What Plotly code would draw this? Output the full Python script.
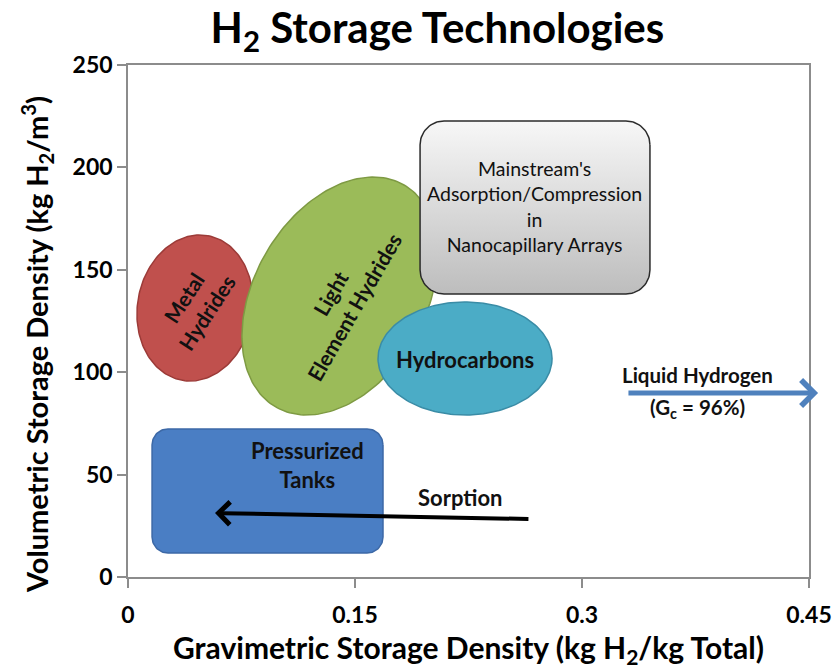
import numpy as np
import plotly.graph_objects as go

# storage technology regions (data units)
region_names = ["Metal Hydrides", "Light Element Hydrides", "Hydrocarbons"]
region_x0 = [0.0059, 0.0753, 0.1652]
region_x1 = [0.0826, 0.2048, 0.2802]
region_y0 = [95.7, 79.1, 79.1]
region_y1 = [167.0, 195.3, 134.3]
region_tilt = [80, 60, 0]

box_names = ["Pressurized Tanks", "Mainstream's Adsorption/Compression"]
box_x0 = [0.0159, 0.1930]
box_x1 = [0.1685, 0.3449]
box_y0 = [11.7, 138.2]
box_y1 = [72.3, 222.7]

label_text = ["Metal<br>Hydrides", "Light<br>Element Hydrides", "Hydrocarbons",
              "Pressurized<br>Tanks",
              "Mainstream's<br>Adsorption/Compression<br>in<br>Nanocapillary Arrays",
              "Sorption", "Liquid Hydrogen", "(G<sub>c</sub> = 96%)"]
label_x = [0.0443, 0.1414, 0.2227, 0.1183, 0.2689, 0.2194, 0.376, 0.376]
label_y = [132.8, 135.3, 106.0, 54.7, 180.7, 39.0, 98.6, 82.5]

# arrows: tail -> head
sorption_tail = (0.2656, 28.3)
sorption_head = (0.0575, 31.25)
liquid_tail = (0.3297, 89.8)
liquid_head = (0.456, 89.8)

x_ticks = [0, 0.15, 0.3, 0.45]
x_ticktext = ["0", "0.15", "0.3", "0.45"]
y_ticks = [0, 50, 100, 150, 200, 250]

# pixels per data unit, so shapes keep their look on unequal axes
PX = 681 / 0.45
PY = 512 / 250

FONT = "Lato"


def ellipse(x0, x1, y0, y1, tilt):
    cx, cy = (x0 + x1) / 2, (y0 + y1) / 2
    hw = (x1 - x0) / 2 * PX
    hh = (y1 - y0) / 2 * PY
    th = np.radians(tilt)
    c, s = np.cos(th) ** 2, np.sin(th) ** 2
    if abs(c - s) < 1e-6:
        a = b = hw
    else:
        a = np.sqrt(max((c * hw**2 - s * hh**2) / (c - s), 1))
        b = np.sqrt(max((c * hh**2 - s * hw**2) / (c - s), 1))
    t = np.linspace(0, 2 * np.pi, 200)
    px = a * np.cos(t) * np.cos(th) - b * np.sin(t) * np.sin(th)
    py = a * np.cos(t) * np.sin(th) + b * np.sin(t) * np.cos(th)
    return cx + px / PX, cy + py / PY


def rounded_rect(x0, x1, y0, y1, r):
    xs, ys = [], []
    corners = [(x1 - r / PX, y1 - r / PY, 0), (x0 + r / PX, y1 - r / PY, 90),
               (x0 + r / PX, y0 + r / PY, 180), (x1 - r / PX, y0 + r / PY, 270)]
    for cx, cy, start in corners:
        t = np.radians(np.linspace(start, start + 90, 20))
        xs += list(cx + r * np.cos(t) / PX)
        ys += list(cy + r * np.sin(t) / PY)
    xs.append(xs[0])
    ys.append(ys[0])
    return xs, ys


fig = go.Figure()

fills = ["#c0504d", "#9bbb59", "#4bacc6"]
edges = ["#9c3b38", "#7e9a43", "#3a8ca6"]
for i in range(len(region_names)):
    ex, ey = ellipse(region_x0[i], region_x1[i], region_y0[i], region_y1[i], region_tilt[i])
    fig.add_trace(go.Scatter(x=ex, y=ey, mode="lines", fill="toself",
                             fillcolor=fills[i], line=dict(color=edges[i], width=1.5),
                             hoverinfo="skip", showlegend=False, name=region_names[i]))

# pressurized tanks box
bx, by = rounded_rect(box_x0[0], box_x1[0], box_y0[0], box_y1[0], 16)
fig.add_trace(go.Scatter(x=bx, y=by, mode="lines", fill="toself",
                         fillcolor="#4a7ec4", line=dict(color="#3c68a6", width=1.5),
                         hoverinfo="skip", showlegend=False, name=box_names[0]))

# mainstream box, grey gradient
bx, by = rounded_rect(box_x0[1], box_x1[1], box_y0[1], box_y1[1], 24)
fig.add_trace(go.Scatter(x=bx, y=by, mode="lines", fill="toself",
                         fillgradient=dict(type="vertical",
                                           colorscale=[[0, "#bdbdbd"], [1, "#f7f7f7"]]),
                         line=dict(color="#2b2b2b", width=1.5),
                         hoverinfo="skip", showlegend=False, name=box_names[1]))

annotations = []
label_angle = [-57, -60, 0, 0, 0, 0, 0, 0]
label_bold = [True, True, True, True, False, True, True, True]
label_size = [21, 21, 22, 22, 19.5, 22, 20.5, 20.5]
for i, t in enumerate(label_text):
    annotations.append(dict(x=label_x[i], y=label_y[i], xref="x", yref="y",
                            text=t, showarrow=False, textangle=label_angle[i],
                            font=dict(family=FONT, size=label_size[i], color="#111111",
                                      weight="bold" if label_bold[i] else "normal")))

# arrows go under the liquid hydrogen text
arrows = [
    dict(x=sorption_head[0], y=sorption_head[1], ax=sorption_tail[0],
         ay=sorption_tail[1], xref="x", yref="y", axref="x", ayref="y",
         text="", showarrow=True, arrowhead=4, arrowsize=1.1,
         arrowwidth=4, arrowcolor="black", standoff=0),
    dict(x=liquid_head[0], y=liquid_head[1], ax=liquid_tail[0],
         ay=liquid_tail[1], xref="x", yref="y", axref="x", ayref="y",
         text="", showarrow=True, arrowhead=4, arrowsize=1.0,
         arrowwidth=5, arrowcolor="#4f81bd", standoff=0),
]
annotations = arrows + annotations

# y axis title, sits a little below the plot's middle like the original
plot_w = 838 - 128 - 29
plot_h = 669 - 65 - 92
annotations.append(dict(
    text="Volumetric Storage Density (kg H<sub>2</sub>/m<sup>3</sup>)",
    x=(37 - 128) / plot_w, y=(577 - 345) / plot_h, xref="paper", yref="paper",
    xanchor="center", yanchor="middle", showarrow=False, textangle=-90,
    font=dict(family=FONT, size=29, color="black", weight="bold")))

fig.update_layout(
    width=838, height=669,
    margin=dict(l=128, r=29, t=65, b=92),
    plot_bgcolor="white", paper_bgcolor="white",
    title=dict(text="H<sub>2</sub> Storage Technologies", x=0.522, xanchor="center",
               y=0.957, yanchor="middle", yref="container",
               font=dict(family=FONT, size=42, color="black", weight="bold")),
    annotations=annotations,
    showlegend=False,
)
axis_style = dict(showgrid=False, zeroline=False, showline=True, mirror=True,
                  linecolor="#8c8c8c", linewidth=1.5, ticks="outside", ticklen=9,
                  tickcolor="#8c8c8c", tickwidth=1.5, automargin=False,
                  tickfont=dict(family=FONT, size=23, color="black", weight="bold"))
fig.update_xaxes(range=[0, 0.45], tickvals=x_ticks, ticktext=x_ticktext,
                 ticklabelstandoff=8,
                 title=dict(text="Gravimetric Storage Density (kg H<sub>2</sub>/kg Total)",
                            font=dict(family=FONT, size=30, color="black", weight="bold"),
                            standoff=16),
                 **axis_style)
fig.update_yaxes(range=[0, 250], tickvals=y_ticks, **axis_style)

fig.write_html("out.html", config={"displayModeBar": False},
               post_script="document.body.style.margin='0px';")
